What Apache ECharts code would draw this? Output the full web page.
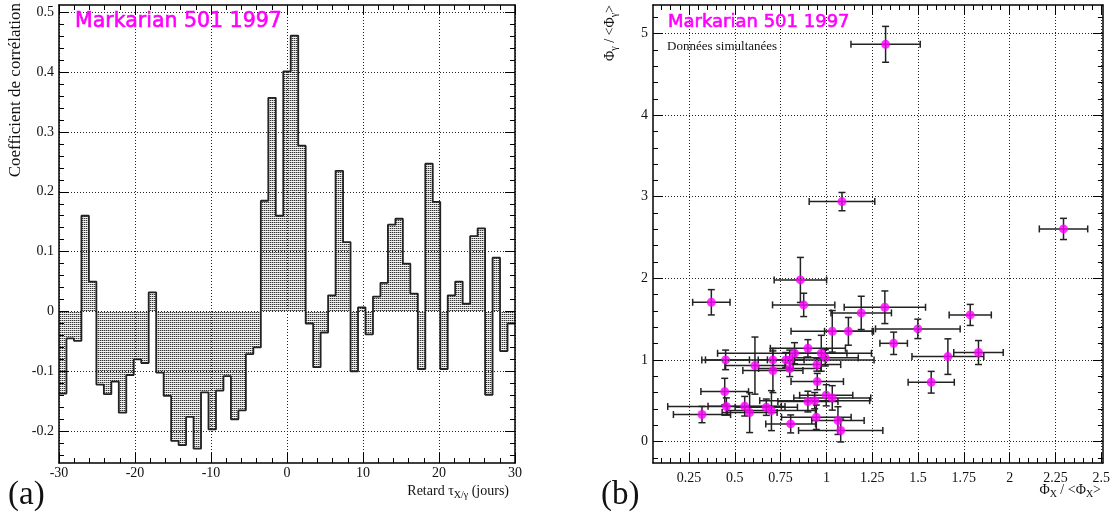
<!DOCTYPE html>
<html>
<head>
<meta charset="utf-8">
<script src="https://cdn.jsdelivr.net/npm/echarts@6/dist/echarts.min.js"></script>
<style>
html,body{margin:0;padding:0;background:#fff;}
#chart{width:1113px;height:518px;}
</style>
</head>
<body>
<div id="chart"></div>
<script>
// ---------- DATA ----------
// (a) cross-correlation histogram: 61 bins between -30 and 30 days
const lagMin = -30, lagMax = 30;
const corrValues = [
  -0.137, -0.045, -0.049, 0.160, 0.050, -0.122, -0.138, -0.117, -0.169, -0.106,
  -0.080, -0.086, 0.032, -0.102, -0.141, -0.216, -0.223, -0.176, -0.229, -0.135,
  -0.197, -0.132, -0.108, -0.180, -0.165, -0.071, -0.060, 0.185, 0.357, 0.160,
  0.401, 0.461, 0.277, -0.020, -0.093, -0.035, 0.027, 0.235, 0.116, -0.100,
  0.007, -0.038, 0.025, 0.048, 0.145, 0.155, 0.080, 0.030, -0.096, 0.247,
  0.183, -0.096, 0.027, 0.050, 0.013, 0.126, 0.139, -0.139, 0.090, -0.066,
  -0.020
];
const leftXTicks = [-30, -20, -10, 0, 10, 20, 30];
const leftYTicks = [-0.2, -0.1, 0, 0.1, 0.2, 0.3, 0.4, 0.5];

// (b) scatter: flux ratios with errors
const phiX  = [0.372,0.858,0.876,1.190,1.319,1.032,1.120,1.367,1.499,1.785,1.663,1.830,1.572,2.294,1.085,1.323,
               0.899,0.826,0.972,0.994,0.450,0.708,0.778,0.800,0.610,0.708,0.800,0.948,0.950,0.445,0.454,0.321,
               0.554,0.581,0.672,0.700,0.899,0.936,0.999,1.032,0.805,0.945,1.063,1.078];
const phiG  = [1.706,1.980,1.674,1.576,1.645,1.350,1.350,1.203,1.380,1.551,1.040,1.090,0.726,2.605,2.940,4.868,
               1.142,1.081,1.081,1.025,1.000,1.000,1.000,1.000,0.930,0.869,0.895,0.942,0.734,0.611,0.428,0.330,
               0.432,0.354,0.420,0.378,0.489,0.500,0.566,0.534,0.215,0.297,0.256,0.134];
const errX  = [0.102,0.143,0.170,0.165,0.222,0.225,0.130,0.075,0.231,0.115,0.196,0.135,0.126,0.132,0.179,0.189,
               0.205,0.420,0.140,0.180,0.130,0.080,0.100,0.460,0.164,0.164,0.170,0.130,0.143,0.130,0.320,0.156,
               0.200,0.150,0.170,0.240,0.164,0.300,0.145,0.210,0.136,0.190,0.143,0.230];
const errG  = [0.155,0.276,0.143,0.204,0.200,0.255,0.170,0.137,0.119,0.129,0.218,0.147,0.133,0.130,0.112,0.220,
               0.106,0.130,0.220,0.100,0.120,0.110,0.090,0.120,0.350,0.270,0.100,0.080,0.100,0.163,0.106,0.100,
               0.120,0.245,0.100,0.245,0.127,0.100,0.130,0.150,0.110,0.150,0.170,0.140];
const rightXTicks = [0.25, 0.5, 0.75, 1, 1.25, 1.5, 1.75, 2, 2.25, 2.5];
const rightYTicks = [0, 1, 2, 3, 4, 5];

// ---------- LAYOUT ----------
const L = {left: 59, top: 5, width: 456, height: 458, xmin: -30, xmax: 30, ymin: -0.253, ymax: 0.512};
const R = {left: 653, top: 5, width: 450, height: 458, xmin: 0.0536, xmax: 2.509, ymin: -0.264, ymax: 5.35};

function minorList(start, step, end) {
  const out = [];
  for (let v = start; v <= end + 1e-9; v += step) out.push(Math.round(v * 1000) / 1000);
  return out;
}
const leftXMinor = minorList(-30, 2, 30);
const leftYMinor = minorList(-0.24, 0.02, 0.5);
const rightXMinor = minorList(0.1, 0.05, 2.5);
const rightYMinor = minorList(-0.2, 0.2, 5.2);

const serif = "'Liberation Serif', 'DejaVu Serif', serif";

function makeAxes(gridIndex, dim, min, max, majors, minors, label) {
  const sides = dim === 'x' ? ['bottom', 'top'] : ['left', 'right'];
  const out = [];
  sides.forEach((pos, si) => {
    out.push({
      type: 'value', gridIndex, position: pos, min, max,
      axisLine: {show: true, onZero: false, lineStyle: {color: '#000', width: 1.5}},
      axisTick: {show: true, inside: true, length: 10, customValues: majors, lineStyle: {color: '#000', width: 1}},
      axisLabel: si === 0 ? Object.assign({customValues: majors, fontFamily: serif, color: '#111'}, label) : {show: false},
      splitLine: si === 0 ? {show: true, lineStyle: {type: [1, 2], color: '#222', width: 1}} : {show: false},
      z: 5
    });
    out.push({
      type: 'value', gridIndex, position: pos, min, max,
      axisLine: {show: false, onZero: false},
      axisTick: {show: true, inside: true, length: 5, customValues: minors, lineStyle: {color: '#000', width: 1}},
      axisLabel: {show: false},
      splitLine: {show: false},
      z: 5
    });
  });
  return out;
}

// histogram points (left bin edges + final edge) through the step line
const nBins = corrValues.length;
const binW = (lagMax - lagMin) / nBins;
const histPoints = corrValues.map((v, i) => [lagMin + i * binW, v]);
histPoints.push([lagMax, corrValues[nBins - 1]]);

// dotted fill pattern
const pat = document.createElement('canvas');
pat.width = 2; pat.height = 2;
const pctx = pat.getContext('2d');
pctx.fillStyle = '#f2f2f2'; pctx.fillRect(0, 0, 2, 2);
pctx.fillStyle = '#333333'; pctx.fillRect(0, 0, 1, 1);
pctx.fillStyle = '#b0b0b0'; pctx.fillRect(1, 0, 1, 1);

const scatterData = phiX.map((x, i) => [x, phiG[i], errX[i], errG[i]]);

const chart = echarts.init(document.getElementById('chart'), null, {renderer: 'canvas'});

const titleStyle = (size) => ({text: 'Markarian 501 1997', fill: '#ff00ff', stroke: '#ff00ff', lineWidth: 0.6,
  font: size + "px 'DejaVu Sans', sans-serif", verticalAlign: 'middle', align: 'left'});

const option = {
  animation: false,
  backgroundColor: '#fff',
  grid: [
    {left: L.left, top: L.top, width: L.width, height: L.height, containLabel: false},
    {left: R.left, top: R.top, width: R.width, height: R.height, containLabel: false}
  ],
  xAxis: [
    ...makeAxes(0, 'x', L.xmin, L.xmax, leftXTicks, leftXMinor, {fontSize: 14, margin: 3}),
    ...makeAxes(1, 'x', R.xmin, R.xmax, rightXTicks, rightXMinor, {fontSize: 14, margin: 8})
  ],
  yAxis: [
    ...makeAxes(0, 'y', L.ymin, L.ymax, leftYTicks, leftYMinor, {fontSize: 14, margin: 5}),
    ...makeAxes(1, 'y', R.ymin, R.ymax, rightYTicks, rightYMinor, {fontSize: 14, margin: 5})
  ],
  series: [
    {
      type: 'line', xAxisIndex: 0, yAxisIndex: 0, step: 'end', symbol: 'none',
      data: histPoints, clip: true,
      lineStyle: {color: '#222', width: 1.8},
      areaStyle: {color: {image: pat, repeat: 'repeat'}, opacity: 1, origin: 0},
      z: 3
    },
    {
      type: 'custom', xAxisIndex: 4, yAxisIndex: 4, data: scatterData, clip: true, z: 3,
      renderItem: function (params, api) {
        const x = api.value(0), y = api.value(1), ex = api.value(2), ey = api.value(3);
        const l = api.coord([x - ex, y]), r = api.coord([x + ex, y]);
        const b = api.coord([x, y - ey]), t = api.coord([x, y + ey]);
        const cap = 3.5;
        const st = {stroke: '#222', lineWidth: 1.5};
        const line = (x1, y1, x2, y2) => ({type: 'line', shape: {x1, y1, x2, y2}, style: st});
        return {type: 'group', children: [
          line(l[0], l[1], r[0], r[1]),
          line(b[0], b[1], t[0], t[1]),
          line(l[0], l[1] - cap, l[0], l[1] + cap),
          line(r[0], r[1] - cap, r[0], r[1] + cap),
          line(b[0] - cap, b[1], b[0] + cap, b[1]),
          line(t[0] - cap, t[1], t[0] + cap, t[1])
        ]};
      }
    },
    {
      type: 'scatter', xAxisIndex: 4, yAxisIndex: 4, data: scatterData.map(d => [d[0], d[1]]),
      symbol: 'circle', symbolSize: 9, itemStyle: {color: '#ff00ff'}, z: 4
    }
  ],
  graphic: [
    {type: 'text', x: 75, y: 22, z: 10, style: titleStyle(20.5)},
    {type: 'text', x: 668, y: 22, z: 10, style: titleStyle(18)},
    {type: 'text', x: 667, y: 47, z: 10, style: {text: 'Données simultanées', fill: '#111',
      font: "13px " + serif, verticalAlign: 'middle', align: 'left'}},
    {type: 'text', x: 16, y: 3, rotation: Math.PI / 2, z: 10, style: {text: 'Coefficient de corrélation', fill: '#111',
      font: "17px " + serif, verticalAlign: 'middle', align: 'right'}},
    {type: 'text', x: 8, y: 495, z: 10, style: {text: '(a)', fill: '#111',
      font: "33px " + serif, verticalAlign: 'middle', align: 'left'}},
    {type: 'text', x: 601, y: 495, z: 10, style: {text: '(b)', fill: '#111',
      font: "33px " + serif, verticalAlign: 'middle', align: 'left'}},
    {type: 'text', x: 509, y: 491, z: 10, style: {
      text: '{a|Retard τ}{s|X/γ}{a| (jours)}', align: 'right', verticalAlign: 'middle',
      rich: {a: {fontFamily: serif, fontSize: 14, fill: '#111', lineHeight: 18, verticalAlign: 'middle'},
             s: {fontFamily: serif, fontSize: 10, fill: '#111', lineHeight: 18, verticalAlign: 'bottom', padding: [4, 0, 0, 0]}}}},
    {type: 'text', x: 1101, y: 490, z: 10, style: {
      text: '{a|Φ}{s|X}{a| / <Φ}{s|X}{a|>}', align: 'right', verticalAlign: 'middle',
      rich: {a: {fontFamily: serif, fontSize: 14, fill: '#111', lineHeight: 18, verticalAlign: 'middle'},
             s: {fontFamily: serif, fontSize: 10, fill: '#111', lineHeight: 18, verticalAlign: 'bottom', padding: [4, 0, 0, 0]}}}},
    {type: 'text', x: 610, y: 5, rotation: Math.PI / 2, z: 10, style: {
      text: '{a|Φ}{s|γ}{a| / <Φ}{s|γ}{a|>}', align: 'right', verticalAlign: 'middle',
      rich: {a: {fontFamily: serif, fontSize: 14, fill: '#111', lineHeight: 18, verticalAlign: 'middle'},
             s: {fontFamily: serif, fontSize: 10, fill: '#111', lineHeight: 18, verticalAlign: 'bottom', padding: [4, 0, 0, 0]}}}}
  ]
};
chart.setOption(option);
</script>
</body>
</html>
